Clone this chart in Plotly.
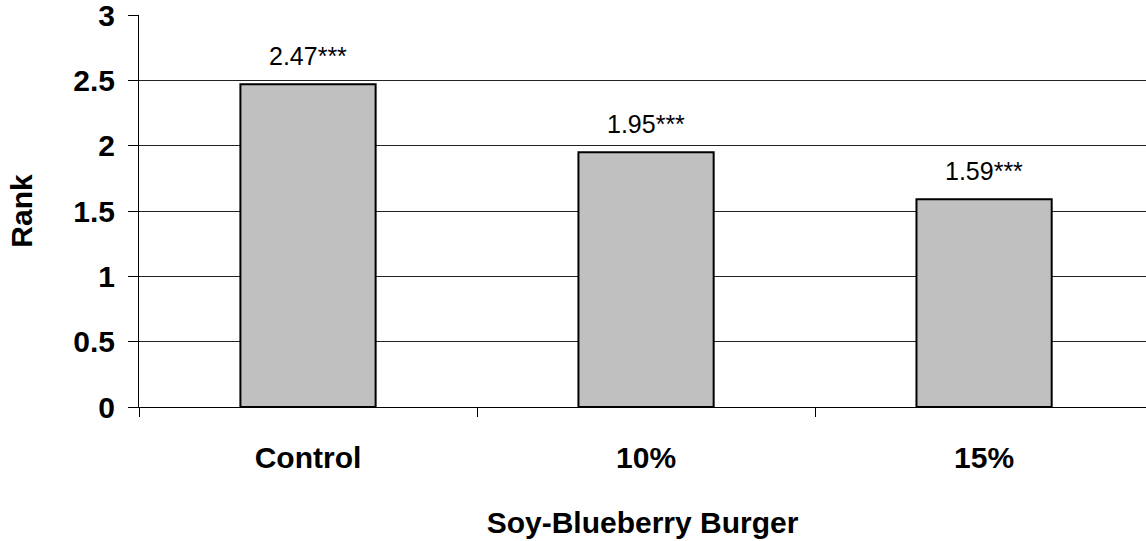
import plotly.graph_objects as go

# burger samples and mean rank values
categories = ["Control", "10%", "15%"]
rank_values = [2.47, 1.95, 1.59]
value_labels = ["2.47***", "1.95***", "1.59***"]
y_ticks = [0, 0.5, 1, 1.5, 2, 2.5, 3]

FONT = "Liberation Sans, Arial, sans-serif"

fig = go.Figure()

fig.add_trace(go.Bar(
    x=categories,
    y=rank_values,
    width=0.4,
    marker=dict(color="#C0C0C0", line=dict(color="black", width=2)),
    hoverinfo="x+y",
    showlegend=False
))

# value labels above the bars
for cat, val, txt in zip(categories, rank_values, value_labels):
    fig.add_annotation(
        x=cat, y=val, text=txt,
        showarrow=False, yanchor="bottom", yshift=12,
        font=dict(family=FONT, size=25, color="black")
    )

fig.update_layout(
    width=1146,
    height=541,
    margin=dict(l=139, r=0, t=15, b=134, autoexpand=False),
    paper_bgcolor="white",
    plot_bgcolor="white",
    font=dict(family=FONT, color="black"),
    bargap=0.6
)

fig.update_xaxes(
    range=[-0.5, 2.479],
    automargin=False,
    tickson="boundaries",
    ticks="outside",
    ticklen=9,
    tickcolor="black",
    showline=True,
    linecolor="black",
    linewidth=1,
    showgrid=False,
    ticklabelstandoff=24,
    tickfont=dict(family=FONT, size=30, color="black", weight="bold"),
    title=dict(text="<b>Soy-Blueberry Burger</b>", standoff=38,
               font=dict(family=FONT, size=30, color="black"))
)

fig.update_yaxes(
    range=[0, 3],
    automargin=False,
    tickvals=y_ticks,
    ticktext=[f"{v:g}" for v in y_ticks],
    ticks="outside",
    ticklen=10,
    tickcolor="black",
    showline=True,
    linecolor="black",
    linewidth=1,
    showgrid=True,
    gridcolor="#222222",
    gridwidth=1,
    zeroline=False,
    ticklabeloverflow="allow",
    ticklabelstandoff=7,
    tickfont=dict(family=FONT, size=30, color="black", weight="bold"),
    title=dict(text="<b>Rank</b>", standoff=31,
               font=dict(family=FONT, size=30, color="black"))
)

# drop the browser's default page margin so the figure sits at the window origin
fig.write_html("out.html", config={"displayModeBar": False},
               post_script="document.body.style.margin='0';")
